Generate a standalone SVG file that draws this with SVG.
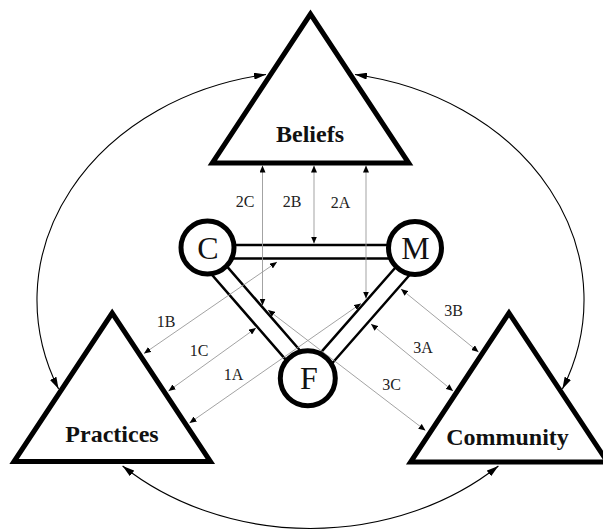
<svg xmlns="http://www.w3.org/2000/svg" width="603" height="531" viewBox="0 0 603 531">
<defs>
<marker id="ah" viewBox="0 0 12 7" refX="12" refY="3.5" markerWidth="12" markerHeight="7" markerUnits="userSpaceOnUse" orient="auto-start-reverse"><path d="M0,0 L12,3.5 L0,7 z" fill="#000"/></marker>
<marker id="sh" viewBox="0 0 7 6" refX="7" refY="3" markerWidth="7" markerHeight="6" markerUnits="userSpaceOnUse" orient="auto-start-reverse"><path d="M0,0 L7,3 L0,6 z" fill="#000"/></marker>
<style>
.tri{fill:#fff;stroke:#000;stroke-width:5;stroke-linejoin:miter}
.circ{fill:#fff;stroke:#000;stroke-width:5}
.bar{stroke:#000;stroke-width:2.5;fill:none}
.thin{stroke:#999;stroke-width:0.9;fill:none;marker-start:url(#sh);marker-end:url(#sh)}
.arc{stroke:#000;stroke-width:1.1;fill:none;marker-start:url(#ah);marker-end:url(#ah)}
.big{font-family:"Liberation Serif","Times New Roman",serif;font-weight:bold;font-size:24px;text-anchor:middle;fill:#111}
.lt{font-family:"Liberation Serif","Times New Roman",serif;font-size:32px;text-anchor:middle;fill:#111}
.lab{font-family:"Liberation Serif","Times New Roman",serif;font-size:16px;text-anchor:middle;fill:#222}
</style>
</defs>
<rect width="603" height="531" fill="#fff"/>
<g id="connectors">
  <path class="arc" d="M266,74.5 A273.5,228.5 0 0 0 58.6,389"/>
  <path class="arc" d="M355,74.5 A273.5,228.5 0 0 1 562.4,389"/>
  <path class="arc" d="M122.6,466 A273.5,228.5 0 0 0 498.4,466"/>
  <path class="bar" d="M207,245 H415 M207,258.5 H415"/>
  <path class="bar" d="M201.9,263.2 L287.2,361.4 M217.6,255.6 L302.9,353.8"/>
  <path class="bar" d="M404.9,256.7 L319.2,354.4 M419.9,263.3 L327.6,368.5"/>
  <line class="thin" x1="262.5" y1="165.5" x2="262.5" y2="305.5"/>
  <line class="thin" x1="314" y1="165.5" x2="314" y2="243.5"/>
  <line class="thin" x1="366" y1="165.5" x2="366" y2="298.5"/>
  <line class="thin" x1="144" y1="353.5" x2="277" y2="262"/>
  <line class="thin" x1="168.5" y1="391" x2="256" y2="328"/>
  <line class="thin" x1="189.5" y1="423" x2="361" y2="303.5"/>
  <line class="thin" x1="401" y1="289" x2="478.5" y2="352"/>
  <line class="thin" x1="371" y1="324" x2="453" y2="391"/>
  <line class="thin" x1="268" y1="310" x2="425.5" y2="430.5"/>
  <text class="lab" x="245" y="207">2C</text>
  <text class="lab" x="292" y="207">2B</text>
  <text class="lab" x="340.5" y="208">2A</text>
  <text class="lab" x="166" y="326.5">1B</text>
  <text class="lab" x="199" y="356">1C</text>
  <text class="lab" x="233.5" y="380">1A</text>
  <text class="lab" x="453.5" y="316">3B</text>
  <text class="lab" x="423" y="352.5">3A</text>
  <text class="lab" x="391.5" y="390">3C</text>
</g>
<g id="beliefs">
  <polygon class="tri" points="310.5,14 212.3,163 408.7,163"/>
  <text class="big" x="310" y="141.5">Beliefs</text>
</g>
<g id="practices">
  <polygon class="tri" points="112.2,313 14,461.5 210.4,461.5"/>
  <text class="big" x="112" y="441.5">Practices</text>
</g>
<g id="community">
  <polygon class="tri" points="509,313 410.6,462 607.4,462"/>
  <text class="big" x="507.5" y="445">Community</text>
</g>
<g id="node-c">
  <circle class="circ" cx="207.5" cy="247.5" r="26.5"/>
  <text class="lt" x="208" y="259">C</text>
</g>
<g id="node-m">
  <circle class="circ" cx="415" cy="248" r="26.5"/>
  <text class="lt" x="415.5" y="259">M</text>
</g>
<g id="node-f">
  <circle class="circ" cx="307.8" cy="378.3" r="27.5"/>
  <text class="lt" x="309" y="389">F</text>
</g>
</svg>
